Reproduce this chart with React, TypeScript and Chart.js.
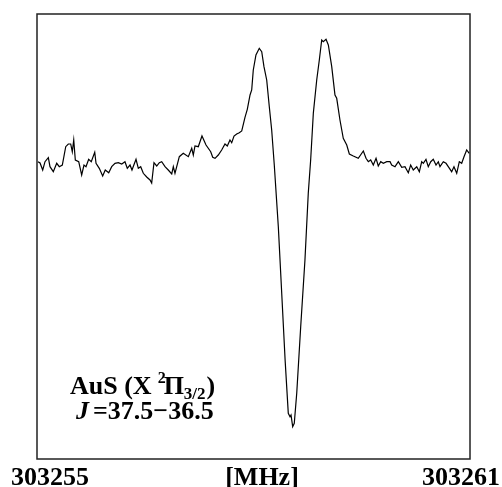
import React, { useEffect, useRef } from "react";
import { Chart, registerables } from "chart.js";

Chart.register(...registerables);

// Frequency axis range (MHz)
const FREQ_START = 303255;
const FREQ_END = 303261;
const tickLabels = ["303255", "[MHz]", "303261"];

// Frequency offsets from FREQ_START (MHz)
const freqOffsets = [
  0.014, 0.042, 0.079, 0.111, 0.157, 0.18, 0.226, 0.273, 0.309, 0.351,
  0.398, 0.434, 0.467, 0.489, 0.509, 0.531, 0.578, 0.619, 0.651, 0.679,
  0.716, 0.752, 0.8, 0.818, 0.863, 0.91, 0.946, 0.994, 1.035, 1.081,
  1.127, 1.174, 1.219, 1.251, 1.289, 1.316, 1.372, 1.404, 1.437, 1.473,
  1.52, 1.566, 1.589, 1.621, 1.659, 1.695, 1.728, 1.774, 1.819, 1.867,
  1.889, 1.912, 1.972, 2.027, 2.097, 2.144, 2.166, 2.189, 2.235, 2.286,
  2.342, 2.407, 2.435, 2.467, 2.512, 2.559, 2.605, 2.637, 2.674, 2.698,
  2.73, 2.767, 2.803, 2.837, 2.882, 2.914, 2.952, 2.975, 2.997, 3.034,
  3.08, 3.114, 3.145, 3.183, 3.219, 3.252, 3.288, 3.344, 3.391, 3.438,
  3.482, 3.506, 3.52, 3.543, 3.565, 3.599, 3.654, 3.713, 3.759, 3.792,
  3.829, 3.876, 3.912, 3.945, 3.967, 4.005, 4.037, 4.084, 4.129, 4.153,
  4.198, 4.244, 4.292, 4.328, 4.383, 4.452, 4.522, 4.559, 4.591, 4.624,
  4.66, 4.698, 4.729, 4.763, 4.799, 4.846, 4.892, 4.915, 4.961, 5.007,
  5.054, 5.099, 5.145, 5.178, 5.214, 5.262, 5.298, 5.331, 5.353, 5.39,
  5.422, 5.456, 5.491, 5.529, 5.561, 5.584, 5.63, 5.668, 5.699, 5.746,
  5.778, 5.816, 5.852, 5.885, 5.917, 5.954, 5.99,
];

// Signal intensity (arbitrary units)
const signal = [
  -0.017, -0.03, -0.1, -0.017, 0.023, -0.067, -0.117, -0.033, -0.067, -0.05,
  0.133, 0.16, 0.16, 0.083, 0.2, 0.0, -0.017, -0.15, -0.05, -0.067,
  0.007, -0.017, 0.077, -0.033, -0.083, -0.16, -0.1, -0.127, -0.067, -0.033,
  -0.027, -0.04, -0.017, -0.083, -0.05, -0.1, 0.007, -0.083, -0.067, -0.133,
  -0.17, -0.2, -0.23, -0.027, -0.06, -0.027, -0.017, -0.067, -0.1, -0.14,
  -0.067, -0.133, 0.033, 0.067, 0.033, 0.117, 0.05, 0.14, 0.133, 0.24,
  0.15, 0.083, 0.027, 0.017, 0.05, 0.1, 0.16, 0.14, 0.2, 0.173,
  0.24, 0.26, 0.273, 0.29, 0.427, 0.507, 0.65, 0.7, 0.9, 1.05,
  1.117, 1.083, 0.933, 0.8, 0.533, 0.3, -0.05, -0.667, -1.333, -2.0,
  -2.533, -2.567, -2.55, -2.667, -2.633, -2.333, -1.667, -1.0, -0.333, 0.0,
  0.467, 0.8, 1.0, 1.2, 1.183, 1.207, 1.15, 0.933, 0.65, 0.617,
  0.4, 0.217, 0.15, 0.06, 0.04, 0.017, 0.09, 0.017, -0.017, 0.0,
  -0.05, 0.017, -0.06, -0.017, -0.033, -0.017, -0.017, -0.05, -0.067, -0.017,
  -0.073, -0.067, -0.127, -0.05, -0.1, -0.067, -0.117, -0.017, -0.033, 0.007,
  -0.067, -0.017, 0.007, -0.05, -0.017, -0.067, -0.017, -0.033, -0.067, -0.117,
  -0.067, -0.133, -0.017, -0.033, 0.033, 0.1, 0.067,
];

const Y_MIN = -2.99;
const Y_MAX = 1.46;

const SERIF = "'Liberation Serif', 'Times New Roman', serif";

const framePlugin = {
  id: "frameAndText",
  afterDraw(chart: any) {
    const { ctx, chartArea } = chart;
    const { left, top, right, bottom } = chartArea;
    ctx.save();
    ctx.strokeStyle = "#222";
    ctx.lineWidth = 1.5;
    ctx.strokeRect(left, top, right - left, bottom - top);

    ctx.fillStyle = "#000";
    ctx.textBaseline = "alphabetic";
    ctx.font = `bold 26px ${SERIF}`;
    ctx.textAlign = "left";
    ctx.fillText(tickLabels[0], 11, 485);
    ctx.textAlign = "center";
    ctx.fillText(tickLabels[1], 262, 485);
    ctx.textAlign = "right";
    ctx.fillText(tickLabels[2], 500, 485);

    // Annotation line 1: AuS (X ²Π3/2)
    ctx.textAlign = "left";
    let x = 70;
    const y1 = 394;
    const big = `bold 26px ${SERIF}`;
    const sup = `bold 16px ${SERIF}`;
    const sub = `bold 17px ${SERIF}`;
    ctx.font = big;
    ctx.fillText("AuS (X", x, y1);
    x += ctx.measureText("AuS (X").width + 6;
    ctx.font = sup;
    ctx.fillText("2", x, y1 - 11);
    x += ctx.measureText("2").width - 2;
    ctx.font = big;
    ctx.fillText("\u03A0", x, y1);
    x += ctx.measureText("\u03A0").width;
    ctx.font = sub;
    ctx.fillText("3/2", x, y1 + 5);
    x += ctx.measureText("3/2").width + 1;
    ctx.font = big;
    ctx.fillText(")", x, y1);

    // Annotation line 2: J =37.5−36.5
    const y2 = 419;
    let x2 = 76;
    ctx.font = `italic bold 26px ${SERIF}`;
    ctx.fillText("J", x2, y2);
    x2 += ctx.measureText("J").width + 4;
    ctx.font = big;
    ctx.fillText("=37.5\u221236.5", x2, y2);
    ctx.restore();
  },
};

export default function App() {
  const canvasRef = useRef<HTMLCanvasElement | null>(null);

  useEffect(() => {
    document.body.style.margin = "0";
    const canvas = canvasRef.current;
    if (!canvas) return;
    const points = freqOffsets.map((f, i) => ({ x: FREQ_START + f, y: signal[i] }));
    const chart = new Chart(canvas, {
      type: "line",
      data: {
        datasets: [
          {
            data: points,
            borderColor: "#000",
            borderWidth: 1.2,
            pointRadius: 0,
            tension: 0,
            fill: false,
          },
        ],
      },
      options: {
        animation: false,
        responsive: false,
        devicePixelRatio: 1,
        layout: { padding: { left: 37, top: 14, right: 32, bottom: 28 } },
        plugins: { legend: { display: false }, tooltip: { enabled: false } },
        scales: {
          x: { type: "linear", min: FREQ_START, max: FREQ_END, display: false },
          y: { type: "linear", min: Y_MIN, max: Y_MAX, display: false },
        },
      },
      plugins: [framePlugin],
    });
    return () => chart.destroy();
  }, []);

  return (
    <div style={{ width: 502, height: 487, background: "#fff" }}>
      <canvas ref={canvasRef} width={502} height={487} />
    </div>
  );
}
